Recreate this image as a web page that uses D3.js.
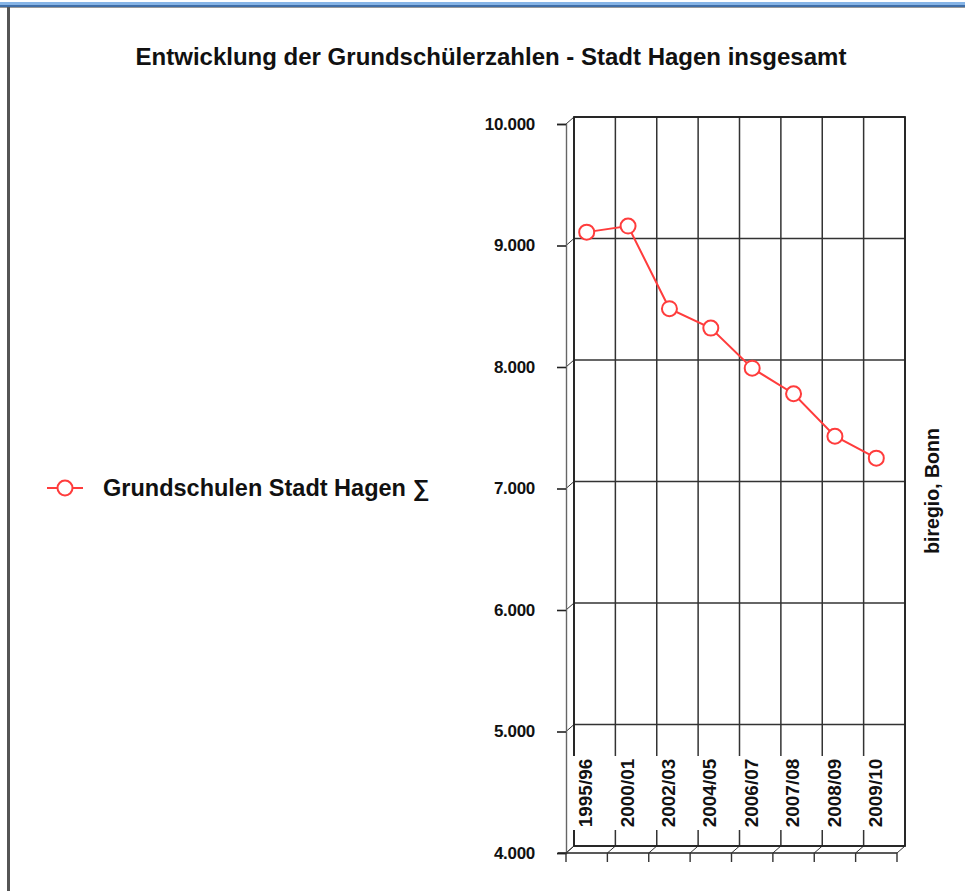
<!DOCTYPE html>
<html lang="de">
<head>
<meta charset="utf-8">
<title>Entwicklung der Grundschülerzahlen - Stadt Hagen insgesamt</title>
<script src="https://d3js.org/d3.v7.min.js"></script>
<style>
  body{margin:0;background:#fff;}
  svg text{font-family:"Liberation Sans",Arial,sans-serif;font-weight:bold;fill:#111;}
</style>
</head>
<body>
<div id="chart"></div>
<script>
// school years and pupils
var years  = ["1995/96","2000/01","2002/03","2004/05","2006/07","2007/08","2008/09","2009/10"];
var pupils = [9110, 9160, 8480, 8320, 7990, 7780, 7430, 7250];
var yTicks = [4000, 5000, 6000, 7000, 8000, 9000, 10000];
var seriesName = "Grundschulen Stadt Hagen \u2211";
var titleText  = "Entwicklung der Grundschülerzahlen - Stadt Hagen insgesamt";
var sourceText = "biregio, Bonn";

// view size, front plane of the pseudo 3d plot, depth offset
var w_view = 965, h_view = 891;
var m = {top: 124, bottom: 853, left: 566, right: 897};
var depth = {dx: 8, dy: -7};
var red = "#ff3c3c";
var grid = "#333";

var de = d3.formatLocale({decimal: ",", thousands: ".", grouping: [3], currency: ["", " €"]});

var svg = d3.select("#chart")
            .append("svg")
            .attr("width", w_view)
            .attr("height", h_view);

// page frame: blue bar on top, grey line left
svg.append("rect").attr("x", 0).attr("y", 2).attr("width", w_view).attr("height", 3).style("fill", "#86b4e6");
svg.append("rect").attr("x", 0).attr("y", 5).attr("width", w_view).attr("height", 2).style("fill", "#3f6ea8");
svg.append("line").attr("x1", 0).attr("x2", w_view).attr("y1", 7.5).attr("y2", 7.5).style("stroke", "#9a9a9a");
svg.append("rect").attr("x", 7).attr("y", 7).attr("width", 3).attr("height", h_view).style("fill", "#555");

// title
svg.append("text")
   .attr("x", 491)
   .attr("y", 65)
   .style("text-anchor", "middle")
   .style("font-size", "24px")
   .text(titleText);

// scales
var y = d3.scaleLinear().domain([4000, 10000]).range([m.bottom, m.top]);
var x = d3.scaleBand().domain(years).range([m.left, m.right]);
var bounds = years.map(d => x(d)).concat([x.range()[1]]);

var g = svg.append("g");

// back wall gridlines
g.selectAll(".hgrid")
 .data(yTicks)
 .join("line")
 .attr("x1", m.left + depth.dx).attr("x2", m.right + depth.dx)
 .attr("y1", d => y(d) + depth.dy).attr("y2", d => y(d) + depth.dy)
 .style("stroke", grid).style("stroke-width", 1.5);

g.selectAll(".vgrid")
 .data(bounds)
 .join("line")
 .attr("x1", d => d + depth.dx).attr("x2", d => d + depth.dx)
 .attr("y1", y(10000) + depth.dy).attr("y2", y(4000) + depth.dy)
 .style("stroke", grid).style("stroke-width", 1.5);

// side wall and floor edges
g.selectAll(".side")
 .data(yTicks)
 .join("line")
 .attr("x1", m.left).attr("x2", m.left + depth.dx)
 .attr("y1", d => y(d)).attr("y2", d => y(d) + depth.dy)
 .style("stroke", grid).style("stroke-width", 1);

g.selectAll(".floor")
 .data(bounds)
 .join("line")
 .attr("x1", d => d).attr("x2", d => d + depth.dx)
 .attr("y1", m.bottom).attr("y2", m.bottom + depth.dy)
 .style("stroke", grid).style("stroke-width", 1);

// wall border
g.append("rect")
 .attr("x", m.left + depth.dx).attr("y", y(10000) + depth.dy)
 .attr("width", m.right - m.left).attr("height", y(4000) - y(10000))
 .style("fill", "none").style("stroke", "#222").style("stroke-width", 1.8);

// white boxes behind the category labels
g.append("rect")
 .attr("x", m.left + 4).attr("y", 756)
 .attr("width", m.right - m.left).attr("height", 74)
 .style("fill", "#fff");

// category labels inside the plot
g.selectAll(".xlab")
 .data(years)
 .join("text")
 .attr("transform", d => "translate(" + (x(d) + x.bandwidth() / 2 - 1) + ",793) rotate(-90)")
 .attr("dy", "0.35em")
 .style("text-anchor", "middle")
 .style("font-size", "19px")
 .text(d => d);

// y axis
var yAxis = svg.append("g")
   .attr("transform", "translate(" + m.left + ",0)")
   .call(d3.axisLeft(y).tickValues(yTicks).tickSize(9).tickPadding(22).tickFormat(de.format(",d")));
yAxis.select(".domain").style("stroke", "#666").style("stroke-width", 1.4);
yAxis.selectAll(".tick line").style("stroke", "#222").style("stroke-width", 1.6);
yAxis.selectAll(".tick text")
     .style("font-size", "17px").style("font-family", "'Liberation Sans',Arial,sans-serif")
     .style("font-weight", "bold").style("letter-spacing", "-0.3px");

// x axis line and ticks at the category bounds
svg.append("line")
   .attr("x1", m.left - 8).attr("x2", m.right)
   .attr("y1", m.bottom).attr("y2", m.bottom)
   .style("stroke", "#222").style("stroke-width", 1.6);
svg.append("g")
   .selectAll("line")
   .data(bounds)
   .join("line")
   .attr("x1", d => d).attr("x2", d => d)
   .attr("y1", m.bottom).attr("y2", m.bottom + 9)
   .style("stroke", "#333").style("stroke-width", 1.4);

// series line and markers
var line = d3.line()
             .x((d, i) => x(years[i]) + x.bandwidth() / 2)
             .y(d => y(d));

svg.append("path")
   .datum(pupils)
   .attr("d", line)
   .style("fill", "none")
   .style("stroke", red)
   .style("stroke-width", 2);

svg.append("g")
   .selectAll("circle")
   .data(pupils)
   .join("circle")
   .attr("cx", (d, i) => x(years[i]) + x.bandwidth() / 2)
   .attr("cy", d => y(d))
   .attr("r", 7.5)
   .style("fill", "#fff")
   .style("stroke", red)
   .style("stroke-width", 2);

// legend
var lg = svg.append("g").attr("transform", "translate(47,488)");
lg.append("line").attr("x1", 0).attr("x2", 36).style("stroke", red).style("stroke-width", 2);
lg.append("circle").attr("cx", 18).attr("r", 7.5).style("fill", "#fff").style("stroke", red).style("stroke-width", 2);
lg.append("text")
  .attr("x", 56)
  .attr("dy", "0.35em")
  .style("font-size", "23.5px")
  .text(seriesName);

// source note
svg.append("text")
   .attr("transform", "translate(932,491) rotate(-90)")
   .attr("dy", "0.35em")
   .style("text-anchor", "middle")
   .style("font-size", "19.5px")
   .text(sourceText);
</script>
</body>
</html>
